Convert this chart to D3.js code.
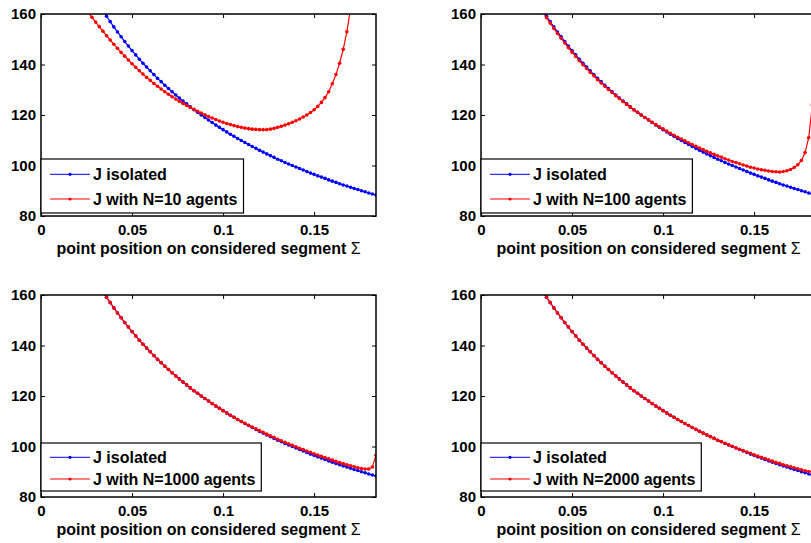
<!DOCTYPE html>
<html><head><meta charset="utf-8">
<script src="https://cdn.jsdelivr.net/npm/d3@7"></script>
<style>
body{margin:0;background:#fff}
text{font-family:"Liberation Sans",Arial,Helvetica,sans-serif;font-weight:bold;fill:#000}
</style>
</head><body>
<svg id="c" width="811" height="543"></svg>
<script>
// ---- data ----
const xPos = [0.024,0.026,0.028,0.030,0.032,0.034,0.036,0.038,0.040,0.042,0.044,0.046,0.048,0.050,0.052,0.054,0.056,0.058,0.060,0.062,0.064,0.066,0.068,0.070,0.072,0.074,0.076,0.078,0.080,0.082,0.084,0.086,0.088,0.090,0.092,0.094,0.096,0.098,0.100,0.102,0.104,0.106,0.108,0.110,0.112,0.114,0.116,0.118,0.120,0.122,0.124,0.126,0.128,0.130,0.132,0.134,0.136,0.138,0.140,0.142,0.144,0.146,0.148,0.150,0.152,0.154,0.156,0.158,0.160,0.162,0.164,0.166,0.168,0.170,0.172,0.174,0.176,0.178,0.180,0.182,0.184];

const jIsolated = [173.7,171.0,168.5,166.0,163.6,161.3,159.1,157.0,154.9,152.9,151.0,149.1,147.3,145.5,143.8,142.1,140.5,139.0,137.5,136.0,134.5,133.2,131.8,130.5,129.2,127.9,126.7,125.5,124.4,123.2,122.1,121.1,120.0,119.0,118.0,117.0,116.0,115.1,114.2,113.3,112.4,111.6,110.7,109.9,109.1,108.3,107.5,106.8,106.0,105.3,104.6,103.9,103.2,102.5,101.9,101.2,100.6,100.0,99.4,98.8,98.2,97.6,97.0,96.5,95.9,95.4,94.9,94.3,93.8,93.3,92.8,92.3,91.9,91.4,90.9,90.5,90.0,89.6,89.1,88.7,88.3];

const jN10 = [162.7,160.7,158.7,156.8,155.0,153.2,151.4,149.7,148.0,146.4,144.8,143.3,141.8,140.3,138.9,137.5,136.2,134.9,133.7,132.5,131.4,130.3,129.2,128.2,127.2,126.3,125.4,124.6,123.8,123.0,122.3,121.5,120.8,120.1,119.4,118.8,118.2,117.6,117.1,116.6,116.2,115.8,115.4,115.1,114.8,114.6,114.4,114.3,114.2,114.2,114.2,114.4,114.7,115.1,115.5,116.0,116.5,117.1,117.7,118.4,119.2,120.0,121.0,122.1,123.4,125.0,126.9,129.2,132.4,136.0,140.5,146.0,153.0,162.0,175.0];

const jN100 = [173.1,170.4,167.9,165.4,163.0,160.7,158.5,156.4,154.3,152.3,150.4,148.5,146.7,144.9,143.2,141.5,139.9,138.4,136.9,135.5,134.0,132.7,131.4,130.1,128.9,127.6,126.5,125.3,124.2,123.1,122.0,121.1,120.0,119.0,118.1,117.1,116.2,115.3,114.5,113.6,112.8,112.0,111.2,110.5,109.8,109.0,108.3,107.6,106.9,106.3,105.6,105.0,104.4,103.8,103.3,102.7,102.2,101.6,101.2,100.7,100.2,99.8,99.3,99.0,98.6,98.3,98.1,97.8,97.6,97.5,97.4,97.6,97.9,98.4,99.2,100.3,102.0,105.1,111.0,124.0,145.0];

const jN1000 = [173.7,171.0,168.5,166.0,163.6,161.3,159.1,157.0,154.9,152.9,151.0,149.1,147.3,145.5,143.8,142.1,140.5,139.0,137.5,136.0,134.5,133.2,131.8,130.5,129.2,127.9,126.7,125.5,124.4,123.2,122.1,121.1,120.0,119.0,118.0,117.0,116.0,115.1,114.2,113.3,112.4,111.6,110.7,109.9,109.2,108.4,107.7,107.0,106.3,105.6,104.9,104.2,103.6,102.9,102.3,101.7,101.1,100.5,99.9,99.3,98.8,98.2,97.7,97.1,96.6,96.1,95.6,95.1,94.6,94.1,93.6,93.2,92.8,92.4,92.0,91.6,91.3,91.1,91.1,91.9,96.5];

const jN2000 = [173.7,171.0,168.5,166.0,163.6,161.3,159.1,157.0,154.9,152.9,151.0,149.1,147.3,145.5,143.8,142.1,140.5,139.0,137.5,136.0,134.5,133.2,131.8,130.5,129.2,127.9,126.7,125.5,124.4,123.2,122.1,121.1,120.0,119.0,118.0,117.0,116.0,115.1,114.2,113.3,112.4,111.6,110.7,109.9,109.1,108.3,107.5,106.8,106.0,105.3,104.6,103.9,103.2,102.5,102.0,101.3,100.7,100.1,99.5,98.9,98.4,97.8,97.3,96.7,96.2,95.7,95.2,94.7,94.2,93.7,93.3,92.8,92.4,92.0,91.6,91.2,90.8,90.4,90.1,90.0,91.5];

const xTicks = [0, 0.05, 0.1, 0.15];
const xTickLabels = ["0", "0.05", "0.1", "0.15"];
const yTicks = [80, 100, 120, 140, 160];
const xDomain = [0, 0.184];
const yDomain = [80, 160];
const seriesNames = ["J isolated", "J with N=10 agents", "J with N=100 agents", "J with N=1000 agents", "J with N=2000 agents"];
const xTitle = "point position on considered segment ";

// ---- layout ----
const W = 335, H = 202;
const panels = [
  {left: 41,  top: 14,  red: jN10,   name: seriesNames[1], legTop: 159, legBot: 213, r1: 174.3, r2: 199},
  {left: 481, top: 14,  red: jN100,  name: seriesNames[2], legTop: 159, legBot: 213, r1: 174.3, r2: 199},
  {left: 41,  top: 295, red: jN1000, name: seriesNames[3], legTop: 443, legBot: 491, r1: 457.3, r2: 479},
  {left: 481, top: 295, red: jN2000, name: seriesNames[4], legTop: 443, legBot: 491, r1: 457.3, r2: 479}
];

const svg = d3.select("#c");
const BLUE = "#0000ff", RED = "#ff0000";

panels.forEach((p, i) => {
  const x = d3.scaleLinear().domain(xDomain).range([p.left, p.left + W]);
  const y = d3.scaleLinear().domain(yDomain).range([p.top + H, p.top]);
  const g = svg.append("g");

  const cid = "clip" + i;
  svg.append("clipPath").attr("id", cid).append("rect")
    .attr("x", p.left).attr("y", p.top).attr("width", W).attr("height", H);

  const plot = g.append("g").attr("clip-path", `url(#${cid})`);
  const line = d3.line().x(d => x(d[0])).y(d => y(d[1]));

  function drawSeries(vals, color) {
    const pts = vals.map((v, k) => [xPos[k], v]);
    plot.append("path").datum(pts).attr("d", line)
      .attr("fill", "none").attr("stroke", color).attr("stroke-width", 1.2);
    plot.append("g").selectAll("circle").data(pts).join("circle")
      .attr("cx", d => x(d[0])).attr("cy", d => y(d[1])).attr("r", 1.8)
      .attr("fill", color);
  }
  drawSeries(jIsolated, BLUE);
  drawSeries(p.red, RED);

  // axes (ticks inside, MATLAB-like box)
  const fs = "15px";
  const ax = g.append("g").attr("transform", `translate(0,${p.top + H})`)
    .call(d3.axisBottom(x).tickValues(xTicks).tickFormat((d, k) => xTickLabels[k])
      .tickSizeInner(-4).tickSizeOuter(0).tickPadding(8.5));
  ax.select(".domain").remove();
  ax.selectAll("text").style("font-size", fs);
  const at = g.append("g").attr("transform", `translate(0,${p.top})`)
    .call(d3.axisTop(x).tickValues(xTicks).tickFormat("").tickSizeInner(-4).tickSizeOuter(0));
  at.select(".domain").remove();
  const al = g.append("g").attr("transform", `translate(${p.left},0)`)
    .call(d3.axisLeft(y).tickValues(yTicks).tickSizeInner(-4).tickSizeOuter(0).tickPadding(5));
  al.select(".domain").remove();
  al.selectAll("text").style("font-size", fs);
  const ar = g.append("g").attr("transform", `translate(${p.left + W},0)`)
    .call(d3.axisRight(y).tickValues(yTicks).tickFormat("").tickSizeInner(-4).tickSizeOuter(0));
  ar.select(".domain").remove();
  g.selectAll(".tick line").attr("stroke", "#000").attr("stroke-width", 1);

  g.append("rect").attr("x", p.left).attr("y", p.top).attr("width", W).attr("height", H)
    .attr("fill", "none").attr("stroke", "#000").attr("stroke-width", 1.5);

  // x title
  const t = g.append("text").attr("x", p.left + W / 2).attr("y", p.top + H + 32)
    .attr("dy", "0.35em").attr("text-anchor", "middle").style("font-size", "16px");
  t.append("tspan").text(xTitle);
  t.append("tspan").style("font-weight", "normal").text("\u03A3");

  // legend
  const leg = g.append("g");
  const box = leg.append("rect").attr("x", p.left).attr("y", p.legTop)
    .attr("height", p.legBot - p.legTop).attr("fill", "#fff")
    .attr("stroke", "#000").attr("stroke-width", 1.2);
  const entries = [[seriesNames[0], BLUE, p.r1], [p.name, RED, p.r2]];
  let maxW = 0;
  entries.forEach(([lab, col, ry]) => {
    leg.append("line").attr("x1", p.left + 9).attr("x2", p.left + 49)
      .attr("y1", ry).attr("y2", ry).attr("stroke", col).attr("stroke-width", 1);
    leg.append("circle").attr("cx", p.left + 29).attr("cy", ry).attr("r", 1.6).attr("fill", col);
    const tx = leg.append("text").attr("x", p.left + 52).attr("y", ry).attr("dy", "0.35em")
      .style("font-size", "16px").text(lab);
    maxW = Math.max(maxW, tx.node().getComputedTextLength());
  });
  box.attr("width", 52 + maxW + 6);
});
</script>
</body></html>
